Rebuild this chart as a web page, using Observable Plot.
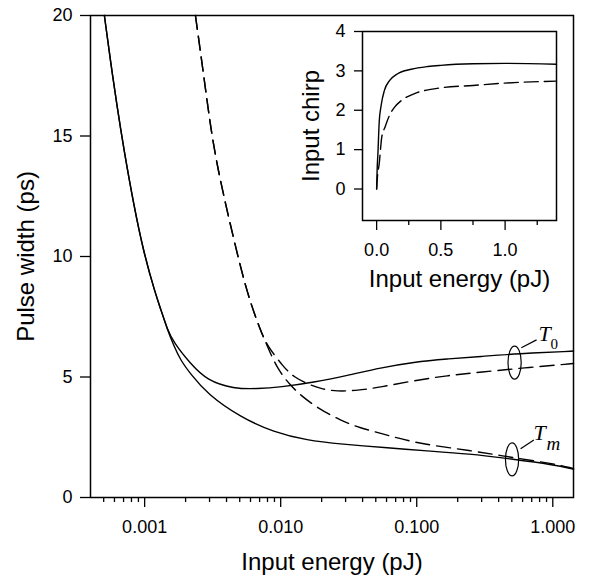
<!DOCTYPE html>
<html>
<head>
<meta charset="utf-8">
<script src="https://cdn.jsdelivr.net/npm/d3@7"></script>
<script src="https://cdn.jsdelivr.net/npm/@observablehq/plot@0.6"></script>
<style>
  body { margin: 0; background: #fff; }
  #wrap { position: relative; width: 597px; height: 577px; }
  #inset { position: absolute; left: 290px; top: 0px; }
</style>
</head>
<body>
<div id="wrap"><div id="main"></div><div id="inset"></div></div>
<script>
// ---------- Main chart data (pulse width vs input energy) ----------
const energyT0Solid = [0.000506, 0.00056, 0.000628, 0.000702, 0.000832, 0.000985, 0.001201, 0.001316, 0.001463, 0.001637, 0.002172, 0.002882, 0.00452, 0.006719, 0.00997, 0.01751, 0.03083, 0.05418, 0.09522, 0.1676, 0.2944, 0.551, 1.391, 1.422];
const widthT0Solid  = [20, 18.14, 16.2, 14.48, 12.13, 10.15, 8.45, 7.8, 7.0, 6.42, 5.55, 4.85, 4.51, 4.51, 4.58, 4.78, 5.06, 5.38, 5.62, 5.75, 5.85, 5.97, 6.07, 6.08];

const energyTmSolid = [0.000506, 0.00056, 0.000628, 0.000702, 0.000832, 0.000985, 0.001201, 0.001316, 0.001463, 0.001637, 0.001835, 0.002172, 0.002882, 0.005063, 0.008899, 0.01566, 0.02752, 0.06418, 0.1066, 0.2486, 0.4895, 1.019, 1.391, 1.422];
const widthTmSolid  = [20, 18.14, 16.2, 14.48, 12.13, 10.15, 8.45, 7.8, 7.0, 6.3, 5.7, 5.13, 4.3, 3.33, 2.71, 2.37, 2.22, 2.05, 1.95, 1.81, 1.6, 1.36, 1.19, 1.17];

const energyT0Dashed = [0.002363, 0.00272, 0.003012, 0.003413, 0.00452, 0.005672, 0.007104, 0.007955, 0.01054, 0.01248, 0.01566, 0.01962, 0.02602, 0.03652, 0.05418, 0.09522, 0.1676, 0.2944, 0.6131, 1.391, 1.422];
const widthT0Dashed  = [20, 17.5, 15.6, 13.7, 10.7, 8.45, 6.93, 6.3, 5.4, 5.0, 4.72, 4.51, 4.4, 4.44, 4.58, 4.85, 5.06, 5.2, 5.38, 5.55, 5.56];

const energyTmDashed = [0.002363, 0.00272, 0.003012, 0.003413, 0.00452, 0.005672, 0.007104, 0.007955, 0.00942, 0.0118, 0.01398, 0.01855, 0.02752, 0.03652, 0.06418, 0.1066, 0.2486, 0.4895, 1.019, 1.391, 1.422];
const widthTmDashed  = [20, 17.5, 15.6, 13.7, 10.7, 8.45, 6.93, 6.3, 5.34, 4.65, 4.25, 3.72, 3.2, 2.92, 2.55, 2.22, 1.95, 1.67, 1.4, 1.22, 1.2];

// axis ticks
const yTicks = [0, 5, 10, 15, 20];
const xMajorTicks = [0.001, 0.01, 0.1, 1];
const xTickLabels = ["0.001", "0.010", "0.100", "1.000"];
const xMinorTicks = [0.0005, 0.0006, 0.0007, 0.0008, 0.0009,
  0.002, 0.003, 0.004, 0.005, 0.006, 0.007, 0.008, 0.009,
  0.02, 0.03, 0.04, 0.05, 0.06, 0.07, 0.08, 0.09,
  0.2, 0.3, 0.4, 0.5, 0.6, 0.7, 0.8, 0.9];

// annotations (ellipse groups + labels)
const groupEnergy = [0.524, 0.502];
const groupWidth = [5.6, 1.58];
const leaderE1 = [0.587, 0.580];
const leaderW1 = [6.21, 2.02];
const leaderE2 = [0.760, 0.726];
const leaderW2 = [6.54, 2.39];
const labelEnergy = [0.786, 0.7225];
const labelWidth = [6.80, 2.66];
const labelMain = ["T", "T"];
const labelSub = ["0", "m"];

// ---------- Inset data (input chirp vs input energy) ----------
const chirpEnergySolid = [0, 0.004, 0.01, 0.02, 0.035, 0.06, 0.1, 0.16, 0.27, 0.4, 0.5, 0.75, 1.0, 1.4];
const chirpSolid = [0, 0.5, 0.9, 1.7, 2.12, 2.5, 2.75, 2.92, 3.04, 3.11, 3.14, 3.18, 3.19, 3.17];
const chirpEnergyDashed = [0, 0.006, 0.02, 0.04, 0.065, 0.1, 0.14, 0.19, 0.3, 0.42, 0.5, 0.75, 1.0, 1.4];
const chirpDashed = [0, 0.3, 0.64, 1.32, 1.57, 1.87, 2.08, 2.24, 2.43, 2.53, 2.57, 2.63, 2.69, 2.74];

const insetYTicks = [0, 1, 2, 3, 4];
const insetYLabels = ["0", "1", "2", "3", "4"];
const insetXMajor = [0, 0.5, 1.0];
const insetXLabels = ["0.0", "0.5", "1.0"];
const insetXMinor = [0.25, 0.75, 1.25];

// ---------- helpers ----------
const pts = (xs, ys) => xs.map((x, i) => ({x, y: ys[i]}));
const sans = "'Liberation Sans', Arial, Helvetica, sans-serif";
const serif = "'Liberation Serif', 'Times New Roman', serif";

const ellipseSymbol = {
  draw(context) {
    const rx = 6.6, ry = 16.5, k = 0.5523;
    context.moveTo(rx, 0);
    context.bezierCurveTo(rx, ry * k, rx * k, ry, 0, ry);
    context.bezierCurveTo(-rx * k, ry, -rx, ry * k, -rx, 0);
    context.bezierCurveTo(-rx, -ry * k, -rx * k, -ry, 0, -ry);
    context.bezierCurveTo(rx * k, -ry, rx, -ry * k, rx, 0);
    context.closePath();
  }
};

const lineW = 1.4;
const dashMain = "14,7";
const tickFont = 18;
const titleFont = 24;

const groups = groupEnergy.map((e, i) => ({e, w: groupWidth[i]}));
const leaders = leaderE1.map((e, i) => ({x1: e, y1: leaderW1[i], x2: leaderE2[i], y2: leaderW2[i]}));
const labels = labelEnergy.map((e, i) => ({e, w: labelWidth[i], t: labelMain[i], s: labelSub[i]}));

const main = Plot.plot({
  width: 597,
  height: 577,
  marginLeft: 90,
  marginRight: 24,
  marginTop: 15,
  marginBottom: 80,
  style: {fontFamily: sans, background: "white", overflow: "visible", color: "black"},
  x: {type: "log", domain: [0.0004, 1.42]},
  y: {domain: [0, 20]},
  marks: [
    Plot.axisY({ticks: yTicks, tickSize: 10, tickPadding: 8, fontSize: tickFont, label: null, strokeWidth: 1.3}),
    Plot.axisX({ticks: xMinorTicks, tickSize: 5, tickFormat: () => "", label: null, strokeWidth: 1.3}),
    Plot.axisX({ticks: xMajorTicks, tickSize: 10, tickPadding: 13, fontSize: tickFont, label: null, strokeWidth: 1.3,
      tickFormat: d => xTickLabels[xMajorTicks.indexOf(d)]}),
    Plot.text(["Input energy (pJ)"], {frameAnchor: "bottom", textAnchor: "middle", lineAnchor: "middle", dy: 65, fontSize: titleFont}),
    Plot.text(["Pulse width (ps)"], {frameAnchor: "left", textAnchor: "middle", lineAnchor: "middle", dx: -64, rotate: -90, fontSize: titleFont}),
    Plot.line(pts(energyT0Solid, widthT0Solid), {x: "x", y: "y", curve: "basis", strokeWidth: lineW}),
    Plot.line(pts(energyTmSolid, widthTmSolid), {x: "x", y: "y", curve: "basis", strokeWidth: lineW}),
    Plot.line(pts(energyT0Dashed, widthT0Dashed), {x: "x", y: "y", curve: "basis", strokeWidth: lineW, strokeDasharray: dashMain}),
    Plot.line(pts(energyTmDashed, widthTmDashed), {x: "x", y: "y", curve: "basis", strokeWidth: lineW, strokeDasharray: dashMain}),
    Plot.dot(groups, {x: "e", y: "w", symbol: ellipseSymbol, stroke: "black", fill: "none", strokeWidth: 1.2}),
    Plot.link(leaders, {x1: "x1", y1: "y1", x2: "x2", y2: "y2", stroke: "black", strokeWidth: 1.2}),
    Plot.text(labels, {x: "e", y: "w", text: "t", textAnchor: "start", lineAnchor: "middle", fontFamily: serif, fontStyle: "italic", fontSize: 22}),
    Plot.text(labels.filter(d => d.s === "0"), {x: "e", y: "w", text: "s", textAnchor: "start", lineAnchor: "middle", fontFamily: serif, fontSize: 15, dx: 12, dy: 11}),
    Plot.text(labels.filter(d => d.s === "m"), {x: "e", y: "w", text: "s", textAnchor: "start", lineAnchor: "middle", fontFamily: serif, fontStyle: "italic", fontSize: 19, dx: 13, dy: 11}),
    Plot.frame({stroke: "black", strokeWidth: 1.5})
  ]
});
document.getElementById("main").appendChild(main);

const inset = Plot.plot({
  width: 290,
  height: 300,
  marginLeft: 72,
  marginRight: 24,
  marginTop: 31,
  marginBottom: 80,
  style: {fontFamily: sans, background: "transparent", overflow: "visible", color: "black"},
  x: {domain: [-0.11, 1.40]},
  y: {domain: [-0.8, 4]},
  marks: [
    Plot.axisY({ticks: insetYTicks, tickSize: 8, tickPadding: 9, fontSize: tickFont, label: null, strokeWidth: 1.3,
      tickFormat: d => insetYLabels[insetYTicks.indexOf(d)]}),
    Plot.axisX({ticks: insetXMinor, tickSize: 5, tickFormat: () => "", label: null, strokeWidth: 1.3}),
    Plot.axisX({ticks: insetXMajor, tickSize: 10, tickPadding: 13, fontSize: tickFont, label: null, strokeWidth: 1.3,
      tickFormat: d => insetXLabels[insetXMajor.indexOf(d)]}),
    Plot.text(["Input energy (pJ)"], {frameAnchor: "bottom", textAnchor: "middle", lineAnchor: "middle", dy: 59, fontSize: titleFont}),
    Plot.text(["Input chirp"], {frameAnchor: "left", textAnchor: "middle", lineAnchor: "middle", dx: -51, rotate: -90, fontSize: titleFont}),
    Plot.line(pts(chirpEnergySolid, chirpSolid), {x: "x", y: "y", curve: "monotone-x", strokeWidth: lineW}),
    Plot.line(pts(chirpEnergyDashed, chirpDashed), {x: "x", y: "y", curve: "monotone-x", strokeWidth: lineW, strokeDasharray: "14,6"}),
    Plot.frame({stroke: "black", strokeWidth: 1.5})
  ]
});
document.getElementById("inset").appendChild(inset);
</script>
</body>
</html>
